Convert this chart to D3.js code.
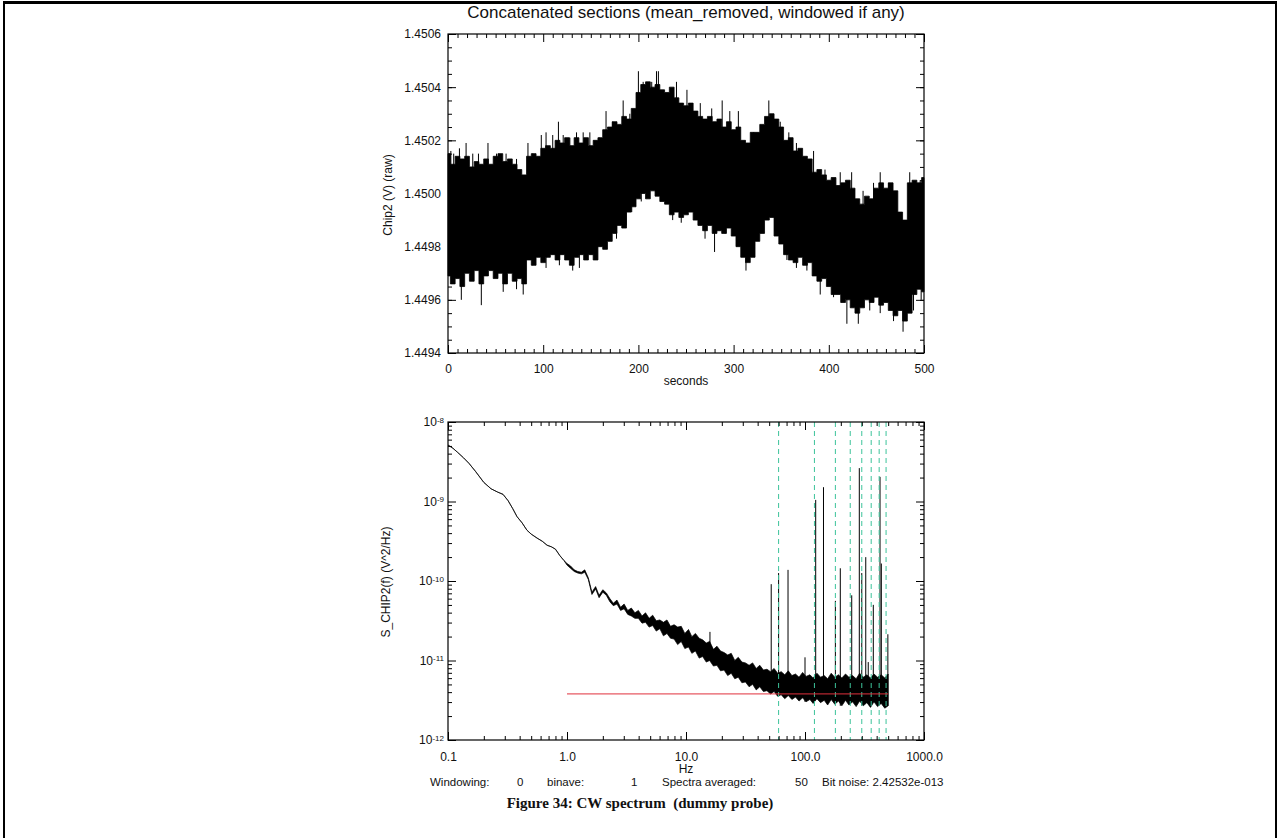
<!DOCTYPE html>
<html>
<head>
<meta charset="utf-8">
<script src="https://cdn.jsdelivr.net/npm/d3@7"></script>
<style>
body { margin: 0; background: #fff; }
text { font-family: "Liberation Sans", Arial, sans-serif; font-size: 12px; fill: #111; }
</style>
</head>
<body>
<script>
// ---- time series (top panel): envelope of the raw signal, every 5 s ----
var timeSec = d3.range(0, 501, 5);
var sigHi = [1.45015,1.45011,1.45014,1.45013,1.45014,1.45010,1.45012,1.45011,1.45013,1.45011,
  1.45014,1.45015,1.45012,1.45013,1.45011,1.45009,1.45007,1.45014,1.45015,1.45014,
  1.45017,1.45018,1.45017,1.45020,1.45019,1.45021,1.45018,1.45021,1.45019,1.45021,
  1.45018,1.45020,1.45021,1.45024,1.45025,1.45027,1.45026,1.45029,1.45028,1.45032,
  1.45038,1.45041,1.45042,1.45040,1.45041,1.45039,1.45038,1.45040,1.45036,1.45034,
  1.45033,1.45034,1.45031,1.45029,1.45028,1.45029,1.45027,1.45028,1.45025,1.45027,
  1.45024,1.45025,1.45020,1.45019,1.45023,1.45023,1.45026,1.45029,1.45030,1.45028,
  1.45025,1.45020,1.45021,1.45016,1.45017,1.45014,1.45013,1.45008,1.45009,1.45007,
  1.45005,1.45006,1.45003,1.45004,1.45005,1.45002,1.44998,1.44996,1.44999,1.44998,
  1.45002,1.45004,1.45002,1.45004,1.45001,1.44993,1.44990,1.45004,1.45005,1.45004,1.45006];
var sigLo = [1.44969,1.44966,1.44968,1.44965,1.44970,1.44967,1.44971,1.44966,1.44969,1.44971,
  1.44968,1.44970,1.44966,1.44970,1.44967,1.44968,1.44966,1.44975,1.44973,1.44976,
  1.44974,1.44976,1.44977,1.44975,1.44977,1.44975,1.44973,1.44976,1.44977,1.44975,
  1.44977,1.44975,1.44980,1.44979,1.44982,1.44985,1.44988,1.44987,1.44993,1.44995,
  1.44998,1.45000,1.44998,1.45001,1.44999,1.44997,1.44996,1.44992,1.44993,1.44991,
  1.44992,1.44993,1.44990,1.44988,1.44986,1.44988,1.44985,1.44986,1.44985,1.44987,
  1.44984,1.44980,1.44976,1.44974,1.44976,1.44982,1.44985,1.44990,1.44991,1.44984,
  1.44981,1.44977,1.44975,1.44974,1.44976,1.44973,1.44974,1.44969,1.44967,1.44968,
  1.44965,1.44962,1.44962,1.44959,1.44960,1.44957,1.44955,1.44957,1.44960,1.44959,
  1.44961,1.44958,1.44959,1.44956,1.44954,1.44956,1.44952,1.44955,1.44962,1.44964,1.44963];
// isolated excursions beyond the envelope
var spikeUpT = [3, 6, 12, 19, 26, 32, 42, 51, 61, 72, 84, 89, 98, 103, 110, 116, 121, 128, 135, 142,
  149, 159, 166, 173, 184, 191, 200, 205, 214, 219, 221, 240, 251, 265, 277, 288, 296, 305, 321, 337,
  349, 358, 366, 384, 396, 412, 424, 436, 447, 454, 463, 485, 496];
var spikeUpV = [1.45016,1.45015,1.45017,1.45019,1.45015,1.45015,1.45019,1.45015,1.45015,1.45013,
  1.45019,1.45015,1.45022,1.45023,1.45022,1.45027,1.45022,1.45021,1.45023,1.45023,
  1.45023,1.45021,1.45031,1.45027,1.45035,1.45030,1.45046,1.45042,1.45042,1.45046,
  1.45046,1.45042,1.45039,1.45034,1.45032,1.45035,1.45031,1.45031,1.45023,1.45035,
  1.45027,1.45023,1.45019,1.45016,1.45009,1.45008,1.45008,1.45001,1.45004,1.45008,
  1.45004,1.45008,1.45005];
var spikeDnT = [14, 35, 58, 72, 79, 89, 103, 117, 131, 138, 154, 166, 177, 187, 193, 203, 236, 245,
  270, 280, 291, 313, 322, 343, 356, 366, 377, 391, 405, 419, 431, 443, 454, 468, 478, 489, 497];
var spikeDnV = [1.44960,1.44958,1.44963,1.44964,1.44962,1.44973,1.44972,1.44973,1.44971,1.44972,
  1.44975,1.44980,1.44983,1.44988,1.44993,1.44997,1.44990,1.44989,1.44983,1.44978,
  1.44985,1.44971,1.44982,1.44986,1.44975,1.44972,1.44971,1.44962,1.44961,1.44951,
  1.44951,1.44956,1.44955,1.44952,1.44948,1.44956,1.44960];

var topXTicks = [0, 100, 200, 300, 400, 500];
var topYTicks = [1.4494, 1.4496, 1.4498, 1.4500, 1.4502, 1.4504, 1.4506];

// ---- spectrum (bottom panel), log10 of PSD envelope ----
var specFreq = [0.10,0.11,0.12,0.135,0.15,0.17,0.20,0.23,0.26,0.29,0.32,0.35,0.38,0.42,0.46,0.50,
  0.56,0.62,0.68,0.74,0.80,0.87,0.94,
  1.00,1.07,1.15,1.23,1.32,1.41,1.51,1.62,1.74,1.86,2.00,2.14,2.29,2.45,2.63,2.82,3.02,3.24,3.47,3.72,
  3.98,4.27,4.57,4.90,5.25,5.62,6.03,6.46,6.92,7.41,7.94,8.51,9.12,9.77,10.5,11.2,12.0,12.9,13.8,14.8,
  15.8,17.0,18.2,19.5,20.9,22.4,24.0,25.7,27.5,29.5,31.6,33.9,36.3,38.9,41.7,44.7,47.9,51.3,55.0,58.9,
  63.1,67.6,72.4,77.6,83.2,89.1,95.5,102,110,117,126,135,145,155,166,178,191,204,219,234,251,269,288,
  309,331,355,380,407,437,468,500];
var specHiExp = [-8.29,-8.33,-8.38,-8.45,-8.52,-8.62,-8.76,-8.84,-8.88,-8.91,-8.99,-9.09,-9.19,-9.27,-9.36,-9.41,
  -9.46,-9.50,-9.55,-9.57,-9.60,-9.68,-9.74,
  -9.78,-9.81,-9.86,-9.88,-9.89,-9.86,-9.96,-10.14,-10.07,-10.18,-10.11,-10.15,-10.22,-10.28,-10.24,-10.33,-10.29,-10.37,-10.34,-10.40,
  -10.37,-10.44,-10.40,-10.47,-10.43,-10.50,-10.49,-10.52,-10.49,-10.57,-10.55,-10.58,-10.57,-10.66,-10.61,-10.70,-10.66,-10.72,-10.74,-10.78,
  -10.76,-10.86,-10.82,-10.88,-10.90,-10.93,-10.91,-11.00,-10.96,-11.02,-11.03,-11.06,-11.03,-11.10,-11.06,-11.12,-11.11,-11.14,-11.10,-11.16,
  -11.14,-11.18,-11.13,-11.19,-11.17,-11.21,-11.15,-11.20,-11.18,-11.22,-11.16,-11.21,-11.19,-11.23,-11.16,-11.21,-11.18,-11.22,-11.17,-11.21,-11.19,-11.23,-11.16,
  -11.21,-11.18,-11.22,-11.17,-11.21,-11.18,-11.22,-11.17];
var specLoExp = [-8.29,-8.33,-8.38,-8.45,-8.52,-8.62,-8.76,-8.84,-8.88,-8.91,-8.99,-9.09,-9.19,-9.27,-9.36,-9.41,
  -9.46,-9.50,-9.55,-9.57,-9.60,-9.68,-9.74,
  -9.80,-9.84,-9.88,-9.90,-9.91,-9.89,-9.98,-10.17,-10.10,-10.21,-10.14,-10.18,-10.26,-10.31,-10.29,-10.37,-10.35,-10.42,-10.44,-10.47,
  -10.47,-10.53,-10.52,-10.58,-10.56,-10.63,-10.60,-10.69,-10.66,-10.72,-10.73,-10.80,-10.76,-10.85,-10.83,-10.91,-10.88,-10.97,-10.95,-11.02,
  -11.00,-11.07,-11.06,-11.13,-11.12,-11.19,-11.16,-11.23,-11.21,-11.28,-11.27,-11.33,-11.30,-11.37,-11.33,-11.39,-11.38,-11.42,-11.39,-11.45,
  -11.43,-11.48,-11.44,-11.49,-11.46,-11.51,-11.47,-11.52,-11.49,-11.54,-11.48,-11.53,-11.50,-11.56,-11.49,-11.55,-11.51,-11.57,-11.50,-11.56,-11.52,-11.58,-11.51,
  -11.57,-11.53,-11.59,-11.52,-11.58,-11.54,-11.60,-11.57];
// narrow lines (mostly mains harmonics)
var peakFreq = [15.9, 52, 60, 72, 100, 123, 143, 180, 198, 247, 286, 300, 324, 340, 375, 427, 438, 497];
var peakExp = [-10.64,-10.04,-9.90,-9.86,-10.96,-8.98,-8.82,-10.25,-9.84,-10.18,-8.58,-9.90,-9.70,-11.02,-10.30,-8.69,-9.78,-10.67];
var harmonicFreq = [60, 120, 180, 240, 300, 360, 420, 480];
var floorFreq = [1.0, 500];
var floorVal = [3.8e-12, 3.8e-12];

var botXTicks = [0.1, 1, 10, 100, 1000];
var botXLabels = ["0.1", "1.0", "10.0", "100.0", "1000.0"];
var botYExp = [-12, -11, -10, -9, -8];

var footerItems = ["Windowing:", "0", "binave:", "1", "Spectra averaged:", "50", "Bit noise: 2.42532e-013"];

// ---- drawing ----
var W = 1280, H = 838;
var svg = d3.select("body").append("svg").attr("width", W).attr("height", H);

// page frame
svg.append("rect").attr("x", 3).attr("y", 1).attr("width", 1274).attr("height", 3).attr("fill", "#000");
svg.append("rect").attr("x", 3).attr("y", 1).attr("width", 2).attr("height", H).attr("fill", "#000");
svg.append("rect").attr("x", 1275).attr("y", 1).attr("width", 2).attr("height", H).attr("fill", "#000");

var p1 = {left: 448, right: 924, top: 34, bottom: 353};
var p2 = {left: 448, right: 924, top: 422, bottom: 740};

function axisPart(gen, tx, ty, vals, size, fmt, pad) {
    var g = svg.append("g")
        .attr("transform", "translate(" + tx + "," + ty + ")")
        .call(gen.tickValues(vals).tickSize(size).tickPadding(pad || 3).tickFormat(fmt || function(){ return ""; }));
    g.select(".domain").remove();
    g.attr("font-size", null).attr("font-family", null);
    return g;
}

// ===== top panel =====
var x1 = d3.scaleLinear().domain([0, 500]).range([p1.left, p1.right]);
var y1 = d3.scaleLinear().domain([1.4494, 1.4506]).range([p1.bottom, p1.top]);

svg.append("path")
    .datum(d3.range(timeSec.length))
    .attr("d", d3.area()
        .x(function(i){ return x1(timeSec[i]); })
        .y0(function(i){ return y1(sigLo[i]); })
        .y1(function(i){ return y1(sigHi[i]); })
        .curve(d3.curveStep))
    .attr("fill", "#000")
    .attr("stroke", "#000")
    .attr("stroke-width", 0.8);

function bandMid(t){
    var i = Math.round(t / 5);
    return (sigHi[i] + sigLo[i]) / 2;
}
svg.selectAll(".spUp").data(spikeUpT).enter().append("line")
    .attr("x1", function(d){ return x1(d); }).attr("x2", function(d){ return x1(d); })
    .attr("y1", function(d, i){ return y1(spikeUpV[i]); })
    .attr("y2", function(d){ return y1(bandMid(d)); })
    .attr("stroke", "#000").attr("stroke-width", 1);
svg.selectAll(".spDn").data(spikeDnT).enter().append("line")
    .attr("x1", function(d){ return x1(d); }).attr("x2", function(d){ return x1(d); })
    .attr("y1", function(d, i){ return y1(spikeDnV[i]); })
    .attr("y2", function(d){ return y1(bandMid(d)); })
    .attr("stroke", "#000").attr("stroke-width", 1);

var topXMinor = d3.range(0, 501, 10).filter(function(v){ return v % 100 !== 0; });
var topYMinor = d3.range(0, 25).map(function(i){ return 1.4494 + i * 0.00005; });

axisPart(d3.axisBottom(x1), 0, p1.bottom, topXTicks, -8, d3.format("d"), 11);
axisPart(d3.axisBottom(x1), 0, p1.bottom, topXMinor, -4);
axisPart(d3.axisTop(x1), 0, p1.top, topXTicks, -8);
axisPart(d3.axisTop(x1), 0, p1.top, topXMinor, -4);
axisPart(d3.axisLeft(y1), p1.left, 0, topYTicks, -8, d3.format(".4f"), 7);
axisPart(d3.axisLeft(y1), p1.left, 0, topYMinor, -4);
axisPart(d3.axisRight(y1), p1.right, 0, topYTicks, -8);
axisPart(d3.axisRight(y1), p1.right, 0, topYMinor, -4);

svg.append("rect")
    .attr("x", p1.left).attr("y", p1.top)
    .attr("width", p1.right - p1.left).attr("height", p1.bottom - p1.top)
    .attr("fill", "none").attr("stroke", "#000").attr("stroke-width", 1.2);

svg.append("text").attr("x", 686).attr("y", 18).attr("text-anchor", "middle")
    .style("font-size", "17px")
    .text("Concatenated sections (mean_removed, windowed if any)");
svg.append("text").attr("x", 686).attr("y", 385).attr("text-anchor", "middle")
    .text("seconds");
svg.append("text").attr("transform", "translate(392,195) rotate(-90)").attr("text-anchor", "middle")
    .text("Chip2 (V) (raw)");

// ===== bottom panel =====
var x2 = d3.scaleLog().domain([0.1, 1000]).range([p2.left, p2.right]);
var y2 = d3.scaleLog().domain([1e-12, 1e-8]).range([p2.bottom, p2.top]);

svg.append("path")
    .datum(d3.range(specFreq.length))
    .attr("d", d3.area()
        .x(function(i){ return x2(specFreq[i]); })
        .y0(function(i){ return y2(Math.pow(10, specLoExp[i])); })
        .y1(function(i){ return y2(Math.pow(10, specHiExp[i])); }))
    .attr("fill", "#000")
    .attr("stroke", "#000")
    .attr("stroke-width", 0.7);

function baseAt(f){
    var best = 0;
    specFreq.forEach(function(v, i){
        if (Math.abs(Math.log(v / f)) < Math.abs(Math.log(specFreq[best] / f))) best = i;
    });
    return Math.pow(10, specLoExp[best]);
}
svg.selectAll(".peak").data(peakFreq).enter().append("line")
    .attr("x1", function(d){ return x2(d); }).attr("x2", function(d){ return x2(d); })
    .attr("y1", function(d, i){ return y2(Math.pow(10, peakExp[i])); })
    .attr("y2", function(d){ return y2(baseAt(d)); })
    .attr("stroke", "#000").attr("stroke-width", 1);

svg.selectAll(".harm").data(harmonicFreq).enter().append("line")
    .attr("x1", function(d){ return x2(d); }).attr("x2", function(d){ return x2(d); })
    .attr("y1", p2.top).attr("y2", p2.bottom)
    .attr("stroke", "#3cc39a").attr("stroke-width", 1)
    .attr("stroke-dasharray", "5,4");

svg.append("line")
    .attr("x1", x2(floorFreq[0])).attr("x2", x2(floorFreq[1]))
    .attr("y1", y2(floorVal[0])).attr("y2", y2(floorVal[1]))
    .attr("stroke", "#e0303c").attr("stroke-width", 1);

var botXMinor = [], botYMinor = [];
[0.1, 1, 10, 100].forEach(function(d){ d3.range(2, 10).forEach(function(m){ botXMinor.push(d * m); }); });
[1e-12, 1e-11, 1e-10, 1e-9].forEach(function(d){ d3.range(2, 10).forEach(function(m){ botYMinor.push(d * m); }); });

axisPart(d3.axisBottom(x2), 0, p2.bottom, botXTicks, -8, function(d, i){ return botXLabels[i]; }, 12);
axisPart(d3.axisBottom(x2), 0, p2.bottom, botXMinor, -4);
axisPart(d3.axisTop(x2), 0, p2.top, botXTicks, -8);
axisPart(d3.axisTop(x2), 0, p2.top, botXMinor, -4);
var gy = axisPart(d3.axisLeft(y2), p2.left, 0, botYExp.map(function(e){ return Math.pow(10, e); }), -8, function(){ return "10"; }, 4);
gy.selectAll("text").append("tspan")
    .attr("dy", "-0.45em")
    .style("font-size", "8px")
    .text(function(d, i){ return botYExp[i]; });
axisPart(d3.axisLeft(y2), p2.left, 0, botYMinor, -4);
axisPart(d3.axisRight(y2), p2.right, 0, botYExp.map(function(e){ return Math.pow(10, e); }), -8);
axisPart(d3.axisRight(y2), p2.right, 0, botYMinor, -4);

svg.append("rect")
    .attr("x", p2.left).attr("y", p2.top)
    .attr("width", p2.right - p2.left).attr("height", p2.bottom - p2.top)
    .attr("fill", "none").attr("stroke", "#000").attr("stroke-width", 1.2);

svg.append("text").attr("x", 686).attr("y", 773).attr("text-anchor", "middle").text("Hz");
svg.append("text").attr("transform", "translate(390,582) rotate(-90)").attr("text-anchor", "middle")
    .text("S_CHIP2(f) (V^2/Hz)");

// footer line
var footerX = [430, 517, 547, 631, 662, 795, 822];
svg.selectAll(".foot").data(footerItems).enter().append("text")
    .attr("x", function(d, i){ return footerX[i]; })
    .attr("y", 786)
    .style("font-size", "11.5px")
    .text(function(d){ return d; });

svg.append("text").attr("x", 640).attr("y", 808).attr("text-anchor", "middle")
    .style("font-family", "'Liberation Serif', 'Times New Roman', serif")
    .style("font-weight", "bold").style("font-size", "15px")
    .style("white-space", "pre")
    .text("Figure 34: CW spectrum  (dummy probe)");
</script>
</body>
</html>
